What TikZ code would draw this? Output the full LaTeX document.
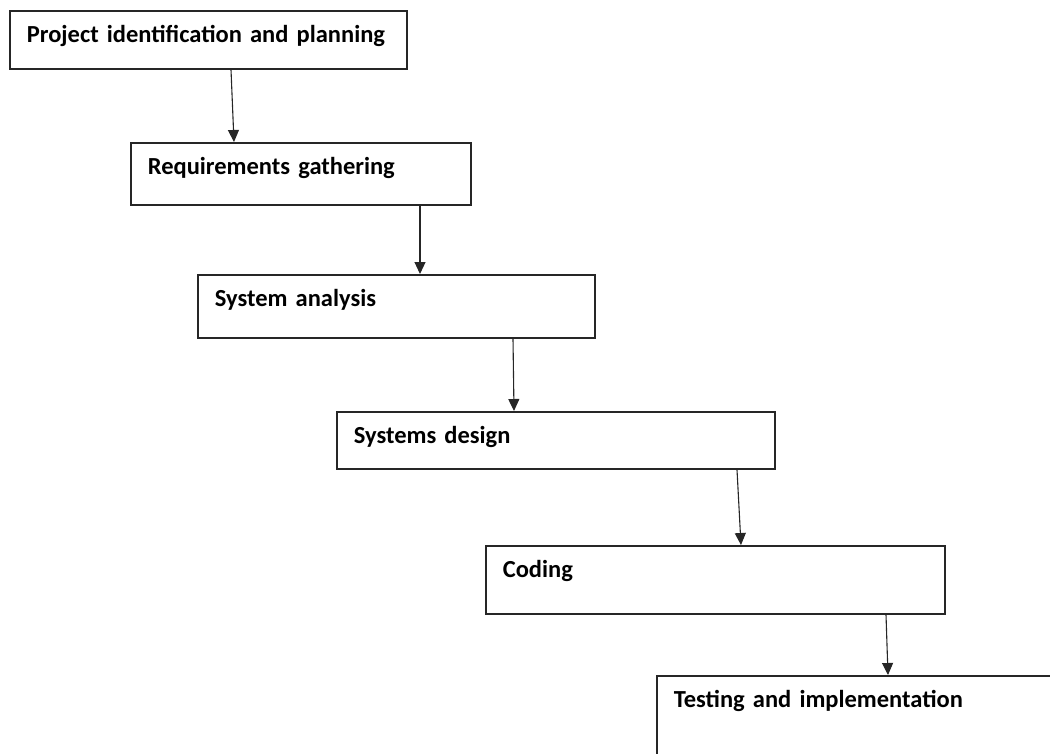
\documentclass[tikz,border=0pt]{standalone}
\usepackage{fontspec}
\setmainfont{Carlito}
\usetikzlibrary{arrows.meta}

\begin{document}
\begin{tikzpicture}[x=1pt, y=-1pt,
  stage/.style={draw=black!85, line width=1.7pt, anchor=north west, inner ysep=0pt, inner xsep=17pt,
    align=left, font=\fontsize{24.5}{28}\selectfont\bfseries, text height=32pt},
  flow/.style={draw=black!85, line width=1.1pt, -{Triangle[length=12pt,width=11pt]}}]
\useasboundingbox (0,0) rectangle (1050,753);
\clip (0,0) rectangle (1050,753);
%\draw[very thin,color=gray] (0,0) grid[step=50] (1050,753);

\node[stage, text width=363pt, text depth=26pt] (plan) at (9,10) {Project identification and planning};
\node[stage, text width=306pt, text depth=30pt] (req) at (130,142) {Requirements gathering};
\node[stage, text width=363pt, text depth=31pt] (analysis) at (197,274) {System analysis};
\node[stage, text width=404pt, text depth=25pt] (design) at (336,411) {Systems design};
\node[stage, text width=425pt, text depth=36pt] (coding) at (485,545) {Coding};
\node[stage, text width=400pt, text depth=90pt] (testing) at (656,675) {Testing and implementation}; % runs off the page

% arrows, slightly slanted as drawn
\draw[flow] ([xshift=222pt]plan.south west) -- ([xshift=104pt]req.north west);
\draw[flow] ([xshift=290pt]req.south west) -- ([xshift=223pt]analysis.north west);
\draw[flow] ([xshift=316pt]analysis.south west) -- ([xshift=178pt]design.north west);
\draw[flow] ([xshift=401pt]design.south west) -- ([xshift=256pt]coding.north west);
\draw[flow] ([xshift=401pt]coding.south west) -- ([xshift=232pt]testing.north west);

\end{tikzpicture}
\end{document}
